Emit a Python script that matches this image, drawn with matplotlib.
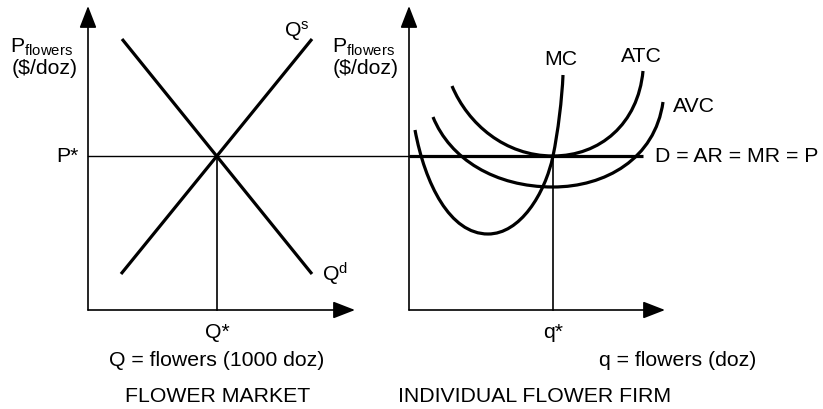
import matplotlib.pyplot as plt
from matplotlib.path import Path
from matplotlib.patches import PathPatch

plt.rcParams['font.family'] = ['Liberation Sans', 'DejaVu Sans']
plt.rcParams['mathtext.fontset'] = 'custom'
plt.rcParams['mathtext.rm'] = 'Liberation Sans'

# Diagram coordinates (pixels from the bottom-left of the figure)
# Market panel
market_origin = (88, 99)
market_x_end = 355
market_y_end = 403
supply_q = [121, 312]
supply_p = [135, 370]
demand_q = [122, 312]
demand_p = [370, 135]
eq_Q = 217
eq_P = 253

# Firm panel
firm_origin = (409, 99)
firm_x_end = 665
firm_y_end = 403
eq_q = 553
demand_line_end = 643

# Cost curves as cubic Bezier control points (start, ctrl, ctrl, end, ...)
mc_q = [415, 425, 450, 488, 520, 545, 553, 558, 562, 563]
mc_p = [279, 225, 175, 175, 175, 215, 253, 277, 310, 334]
atc_q = [452, 468, 505, 553, 600, 638, 643]
atc_p = [323, 285, 253, 253, 253, 285, 338]
avc_q = [433, 450, 495, 553, 605, 655, 663]
avc_p = [292, 250, 222, 222, 222, 250, 307]

fig = plt.figure(figsize=(8.23, 4.10), dpi=100)
ax = fig.add_axes([0, 0, 1, 1])
ax.set_xlim(0, 823)
ax.set_ylim(0, 410)
ax.axis('off')

axis_lw = 1.2
curve_lw = 2.3
arrow = dict(arrowstyle='-|>,head_length=0.9,head_width=0.35', mutation_scale=15,
             lw=axis_lw, color='black', shrinkA=0, shrinkB=0)


def draw_axes(origin, x_end, y_end):
    ox, oy = origin
    ax.annotate('', xy=(ox, y_end), xytext=(ox, oy), arrowprops=arrow)
    ax.annotate('', xy=(x_end, oy), xytext=(ox, oy), arrowprops=arrow)


def bezier(xs, ys):
    verts = list(zip(xs, ys))
    codes = [Path.MOVETO] + [Path.CURVE4] * (len(verts) - 1)
    patch = PathPatch(Path(verts, codes), fill=False, lw=curve_lw,
                      edgecolor='black', capstyle='butt')
    ax.add_patch(patch)


draw_axes(market_origin, market_x_end, market_y_end)
draw_axes(firm_origin, firm_x_end, firm_y_end)

# Market supply and demand
ax.plot(supply_q, supply_p, color='black', lw=curve_lw, solid_capstyle='butt')
ax.plot(demand_q, demand_p, color='black', lw=curve_lw, solid_capstyle='butt')

# Price line across both panels
ax.plot([market_origin[0], firm_origin[0]], [eq_P, eq_P], color='black', lw=1.0)
ax.plot([firm_origin[0], demand_line_end], [eq_P, eq_P], color='black', lw=curve_lw,
        solid_capstyle='butt')
ax.plot([eq_Q, eq_Q], [market_origin[1], eq_P], color='black', lw=axis_lw)
ax.plot([eq_q, eq_q], [firm_origin[1], eq_P], color='black', lw=axis_lw)

# Firm cost curves
bezier(mc_q, mc_p)
bezier(atc_q, atc_p)
bezier(avc_q, avc_p)

fs = 15.3
txt = dict(fontsize=fs, color='black', va='baseline')

# Market labels
ax.text(10, 357, r'$\mathregular{P_{flowers}}$', **txt)
ax.text(12, 336, '($/doz)', **txt)
ax.text(284, 373, r'$\mathregular{Q^s}$', **txt)
ax.text(322, 129, r'$\mathregular{Q^d}$', **txt)
ax.text(79, eq_P, 'P*', fontsize=fs, ha='right', va='center')
ax.text(eq_Q, 72, 'Q*', ha='center', **txt)
ax.text(eq_Q, 44, 'Q = flowers (1000 doz)', ha='center', **txt)
ax.text(218, 8, 'FLOWER MARKET', ha='center', **txt)

# Firm labels
ax.text(332, 357, r'$\mathregular{P_{flowers}}$', **txt)
ax.text(333, 336, '($/doz)', **txt)
ax.text(561, 345, 'MC', ha='center', **txt)
ax.text(641, 348, 'ATC', ha='center', **txt)
ax.text(673, 298, 'AVC', **txt)
ax.text(655, eq_P, 'D = AR = MR = P', fontsize=fs, va='center')
ax.text(eq_q, 72, 'q*', ha='center', **txt)
ax.text(678, 44, 'q = flowers (doz)', ha='center', **txt)
ax.text(535, 8, 'INDIVIDUAL FLOWER FIRM', ha='center', **txt)

fig.savefig('out.png', dpi=100)
